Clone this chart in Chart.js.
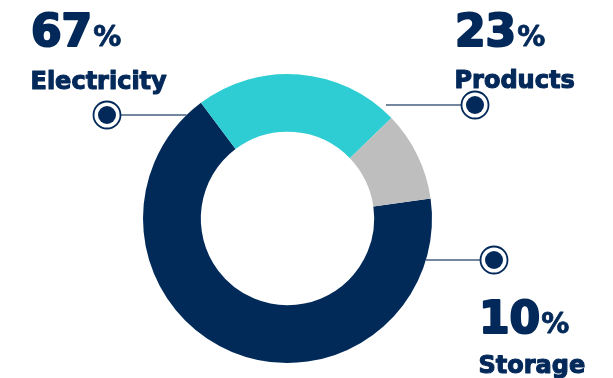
<!DOCTYPE html>
<html>
<head>
<meta charset="utf-8">
<script src="https://cdn.jsdelivr.net/npm/chart.js@4"></script>
<style>
  html, body { margin: 0; padding: 0; background: #ffffff; }
  canvas { display: block; }
</style>
</head>
<body>
<canvas id="shareChart" width="613" height="378"></canvas>
<script>
// values
const categories = ['Electricity', 'Products', 'Storage'];
const shares = [67, 23, 10];
const sliceColors = ['#012a58', '#2ecdd3', '#bebebe'];

const NAVY = '#03295a';

// callout placement for each slice (same order as categories)
const callouts = [
  { textX: 30, numY: 46, nameY: 89, markerX: 107, lineY: 115, gap: 0 },
  { textX: 454, numY: 46, nameY: 88, markerX: 475, lineY: 105, gap: 9 },
  { textX: 478, numY: 333, nameY: 373, markerX: 494, lineY: 260, gap: 0 }
];

// draw text a little heavier than the font's bold
function heavyText(ctx, txt, x, y, extra) {
  ctx.lineWidth = extra;
  ctx.lineJoin = 'round';
  ctx.strokeStyle = NAVY;
  ctx.strokeText(txt, x, y);
  ctx.fillText(txt, x, y);
}

const calloutPlugin = {
  id: 'callouts',
  afterDraw(chart) {
    const ctx = chart.ctx;
    const meta = chart.getDatasetMeta(0);
    const values = chart.data.datasets[0].data;
    const total = values.reduce((a, b) => a + b, 0);

    meta.data.forEach((arc, i) => {
      const c = callouts[i];
      const cx = arc.x, cy = arc.y, R = arc.outerRadius;
      const side = c.markerX < cx ? -1 : 1;
      const dy = c.lineY - cy;
      const edgeX = cx + side * (Math.sqrt(Math.max(R * R - dy * dy, 0)) + c.gap);

      ctx.save();
      // leader line
      ctx.strokeStyle = '#45607f';
      ctx.lineWidth = 1.5;
      ctx.beginPath();
      ctx.moveTo(edgeX, c.lineY);
      ctx.lineTo(c.markerX - side * 14, c.lineY);
      ctx.stroke();

      // marker: ring + dot
      ctx.beginPath();
      ctx.arc(c.markerX, c.lineY, 13.5, 0, Math.PI * 2);
      ctx.fillStyle = '#ffffff';
      ctx.fill();
      ctx.lineWidth = 1.8;
      ctx.strokeStyle = NAVY;
      ctx.stroke();
      ctx.beginPath();
      ctx.arc(c.markerX, c.lineY, 9, 0, Math.PI * 2);
      ctx.fillStyle = NAVY;
      ctx.fill();

      // percentage text
      const pct = Math.round(values[i] / total * 100);
      ctx.fillStyle = NAVY;
      ctx.textAlign = 'left';
      ctx.textBaseline = 'alphabetic';
      ctx.font = 'bold 44px "DejaVu Sans"';
      const numTxt = String(pct);
      heavyText(ctx, numTxt, c.textX + 1, c.numY, 2.2);
      const w = ctx.measureText(numTxt).width;
      ctx.font = 'bold 28px "DejaVu Sans"';
      heavyText(ctx, '%', c.textX + w + 2, c.numY, 0.8);

      // category name
      ctx.font = 'bold 24px "DejaVu Sans"';
      heavyText(ctx, chart.data.labels[i], c.textX + 0.5, c.nameY, 1.1);
      ctx.restore();
    });
  }
};

new Chart(document.getElementById('shareChart'), {
  type: 'doughnut',
  data: {
    labels: categories,
    datasets: [{
      data: shares,
      backgroundColor: sliceColors,
      borderWidth: 0,
      hoverOffset: 0
    }]
  },
  options: {
    responsive: false,
    animation: false,
    devicePixelRatio: 1,
    rotation: 82,
    cutout: '60%',
    layout: { padding: { top: 74, bottom: 15, left: 0, right: 38 } },
    plugins: {
      legend: { display: false },
      tooltip: { enabled: false }
    }
  },
  plugins: [calloutPlugin]
});
</script>
</body>
</html>
